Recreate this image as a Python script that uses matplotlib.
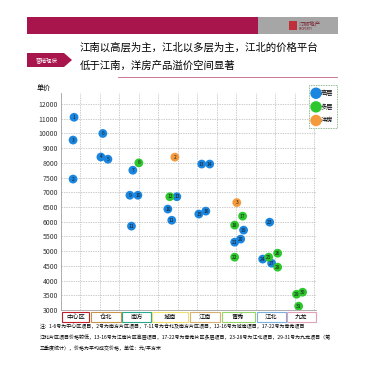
import numpy as np
import matplotlib
matplotlib.use('Agg')
import matplotlib.pyplot as plt
from matplotlib.patches import Rectangle, Polygon
from matplotlib.lines import Line2D
import matplotlib.transforms as mtransforms

plt.rcParams['font.family'] = ['Noto Sans CJK SC', 'DejaVu Sans']

# y axis tick labels (evenly spaced on the chart, top to bottom)
price_ticks = [12000, 11000, 10000, 9000, 8000, 7500, 7000, 6500, 6000, 5500, 5000, 4500, 4000, 3500, 3000]

# regions along the bottom, with their span on the x axis
regions = ['中心区', '仓北', '南方', '城南', '江南', '青秀', '江北', '九龙']
region_start = [0.05, 1.54, 3.13, 4.67, 6.62, 8.26, 10.05, 11.59]
region_end = [1.44, 3.08, 4.62, 6.51, 8.15, 9.95, 11.54, 13.08]

# projects: x position, average price, product type, number
proj_x = [0.67, 0.62, 0.62, 2.05, 2.41, 2.15,
          3.69, 4.00, 3.54, 3.95, 3.62,
          5.85, 5.59, 5.95, 5.49, 5.69,
          7.23, 7.64, 7.08, 7.44,
          9.03, 9.33, 8.92, 9.38, 9.23, 8.92, 8.92,
          10.72, 10.36, 10.67, 11.13, 10.82, 11.13,
          12.10, 12.41, 12.21]
proj_price = [11100, 7450, 9550, 8400, 8250, 10000,
              7750, 8000, 6900, 6900, 5850,
              8390, 6850, 6850, 6430, 6050,
              7960, 7960, 6260, 6360,
              6650, 6190, 5885, 5715, 5410, 5305, 4795,
              5985, 4730, 4795, 4930, 4590, 4455,
              3535, 3605, 3130]
proj_type = ['高层', '高层', '高层', '高层', '高层', '高层',
             '高层', '多层', '高层', '高层', '高层',
             '洋房', '多层', '高层', '高层', '高层',
             '高层', '高层', '高层', '高层',
             '洋房', '多层', '多层', '高层', '高层', '高层', '多层',
             '高层', '高层', '多层', '多层', '高层', '多层',
             '多层', '多层', '多层']
proj_no = ['1', '2', '3', '4', '5', '6',
           '7', '8', '9', '10', '11',
           '2', '12', '13', '10', '11',
           '13', '14', '15', '16',
           '3', '17', '18', '19', '20', '21', '22',
           '23', '24', '25', '26', '27', '28',
           '29', '30', '31']

type_names = ['高层', '多层', '洋房']
type_colors = {'高层': '#1a86e0', '多层': '#2ec82e', '洋房': '#f59a3c'}

region_edge = ['#c0202a', '#c8944a', '#2aa88a', '#eee070', '#d8b070', '#96d668', '#7cb0e0', '#e2a2b6']

W, H = 365, 370


def fx(x):
    return x / W


def fy(y):
    return 1 - y / H


# evenly spaced price scale
asc_prices = np.array(price_ticks[::-1] + [13000], dtype=float)
asc_pos = np.arange(len(asc_prices), dtype=float)


def forward(v):
    return np.interp(v, asc_prices, asc_pos)


def inverse(p):
    return np.interp(p, asc_pos, asc_prices)


fig = plt.figure(figsize=(W / 100, H / 100), dpi=100)

# header bar
fig.add_artist(Rectangle((fx(27), fy(34)), fx(231), 17 / H, transform=fig.transFigure,
                         facecolor='#a8144c', edgecolor='none'))
fig.add_artist(Rectangle((fx(258), fy(34)), fx(80), 17 / H, transform=fig.transFigure,
                         facecolor='#a6a6a6', edgecolor='none'))
fig.add_artist(Rectangle((fx(289), fy(30)), fx(8), 9 / H, transform=fig.transFigure,
                         facecolor='#c0303a', edgecolor='none'))
fig.text(fx(299), fy(24), '汀顺地产', fontsize=4, color='#7a2030', va='center')
fig.text(fx(299), fy(29.5), 'PROPERTY', fontsize=2, color='#7a2030', va='center')

# left tag
tag = Polygon([[fx(27), fy(53)], [fx(64), fy(53)], [fx(72), fy(60)], [fx(64), fy(67)], [fx(27), fy(67)]],
              closed=True, transform=fig.transFigure, facecolor='#a8144c', edgecolor='none')
fig.add_artist(tag)
fig.text(fx(47), fy(60), '营销现状', fontsize=4, color='white', ha='center', va='center')

fig.text(fx(80), fy(47), '江南以高层为主，江北以多层为主，江北的价格平台', fontsize=7.5, va='center')
fig.text(fx(80), fy(66), '低于江南，洋房产品溢价空间显著', fontsize=7.5, va='center')
fig.add_artist(Line2D([fx(118), fx(337)], [fy(77), fy(77)], transform=fig.transFigure,
                      color='#c06080', linewidth=0.6))

ax = fig.add_axes([fx(61), fy(310), fx(255), (310 - 93) / H])
ax.set_yscale('function', functions=(forward, inverse))
ax.set_ylim(3000, 12750)
ax.set_xlim(0, 13.1)

ax.set_yticks(price_ticks)
ax.set_yticklabels([str(p) for p in price_ticks], fontsize=5, color='#333333')
ax.set_xticks(np.arange(1, 14))
ax.set_xticklabels([])
ax.tick_params(length=0, pad=2)
ax.grid(True, color='#b8b8b8', linestyle=(0, (2, 1.5)), linewidth=0.5)
ax.set_axisbelow(True)
for side in ['top', 'right']:
    ax.spines[side].set_visible(False)
for side in ['left', 'bottom']:
    ax.spines[side].set_color('#a0a0a0')
    ax.spines[side].set_linewidth(0.6)
ax.text(-0.04, 1.005, '单价', transform=ax.transAxes, fontsize=5, ha='right', va='bottom')

for t in type_names:
    idx = [i for i, v in enumerate(proj_type) if v == t]
    ax.scatter([proj_x[i] for i in idx], [proj_price[i] for i in idx], s=40,
               color=type_colors[t], edgecolors='none', zorder=3, label=t)
for x, p, n in zip(proj_x, proj_price, proj_no):
    ax.text(x, p, n, fontsize=3.5, ha='center', va='center', color='#1a1a1a', zorder=4)

# region boxes below the plot
trans = mtransforms.blended_transform_factory(ax.transData, ax.transAxes)
for name, x0, x1, ec in zip(regions, region_start, region_end, region_edge):
    ax.add_patch(Rectangle((x0, -0.055), x1 - x0, 0.045, transform=trans, facecolor='white',
                           edgecolor=ec, linewidth=0.8, clip_on=False))
    ax.text((x0 + x1) / 2, -0.033, name, transform=trans, fontsize=4.5, ha='center', va='center')

leg = ax.legend(loc='upper left', bbox_to_anchor=(fx(306), fy(82)), bbox_transform=fig.transFigure,
                fontsize=4.5, frameon=True, handletextpad=0.2, borderpad=0.6, labelspacing=0.9,
                markerscale=1.3, handlelength=1.0)
leg.get_frame().set_edgecolor('#4a8a4a')
leg.get_frame().set_linestyle((0, (1, 1)))
leg.get_frame().set_linewidth(0.6)
leg.get_frame().set_boxstyle('square', pad=0)

notes = [
    '注：1-6号为中心区项目，2号为南方片区项目，7-11号为仓北及南方片区项目，12-16号为城南项目，17-22号为青秀项目',
    '江北片区项目价格较低，13-16号为江南片区高层项目，17-22号为青秀片区多层项目，23-28号为江北项目，29-31号为九龙项目（第',
    '三季度统计），价格为平均成交价格，单位：元/平方米',
]
for k, line in enumerate(notes):
    fig.text(fx(40), fy(326 + 11 * k), line, fontsize=3.6, va='center')

fig.savefig('out.png', dpi=100)
